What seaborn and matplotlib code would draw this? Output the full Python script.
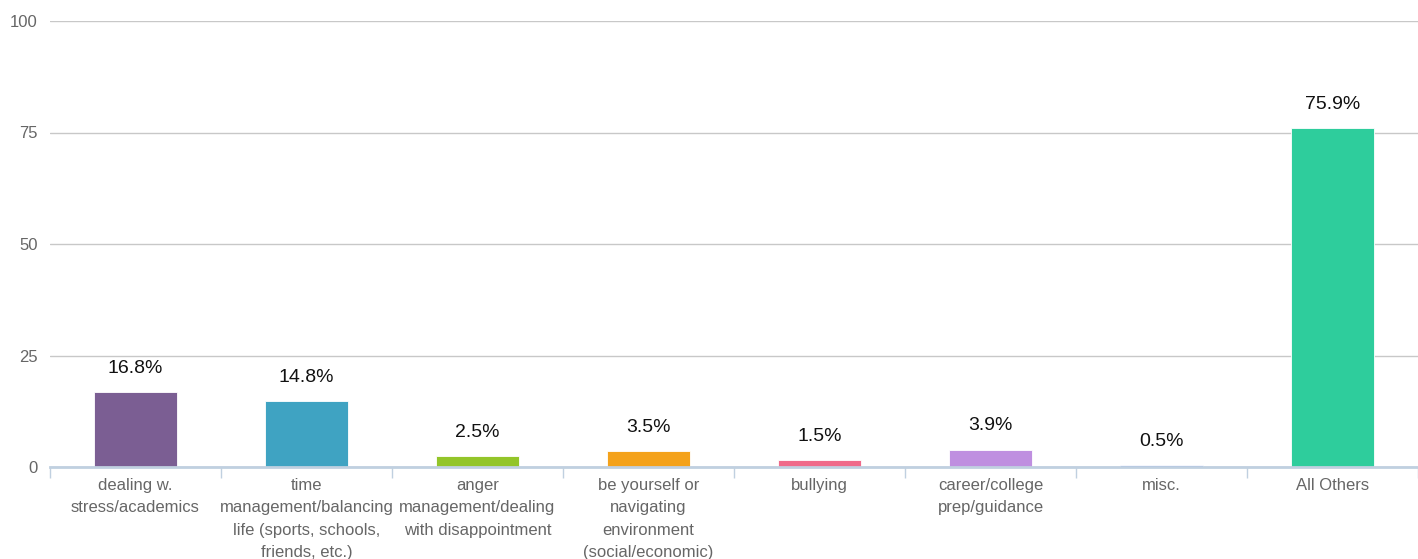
import numpy as np
import matplotlib
matplotlib.use("Agg")
import matplotlib.pyplot as plt
import seaborn as sns
import pandas as pd

categories = [
    "dealing w.\nstress/academics",
    "time\nmanagement/balancing\nlife (sports, schools,\nfriends, etc.)",
    "anger\nmanagement/dealing\nwith disappointment",
    "be yourself or\nnavigating\nenvironment\n(social/economic)",
    "bullying",
    "career/college\nprep/guidance",
    "misc.",
    "All Others",
]
values = [16.8, 14.8, 2.5, 3.5, 1.5, 3.9, 0.5, 75.9]
bar_colors = ["#7b5e93", "#3fa3c2", "#93c529", "#f4a21b",
              "#ef6a8a", "#bf8fe0", "#7a9ef0", "#2ecd9c"]
y_ticks = [0, 25, 50, 75, 100]

df = pd.DataFrame({"category": categories, "value": values})

sns.set_style("white")
plt.rcParams["font.family"] = ["Liberation Sans", "DejaVu Sans"]

fig = plt.figure(figsize=(14.18, 5.59), dpi=100)
ax = fig.add_axes([50 / 1418, 92 / 559, 1 - 50 / 1418, 446 / 559])

sns.barplot(data=df, x="category", y="value", hue="category",
            palette=bar_colors, width=0.48, saturation=1, legend=False, ax=ax,
            edgecolor="white", linewidth=0.6, zorder=3)

ax.set_ylim(0, 100)
ax.set_xlim(-0.5, len(categories) - 0.5)
ax.set_yticks(y_ticks)
ax.set_yticklabels([str(t) for t in y_ticks], color="#666666", fontsize=12)
ax.yaxis.grid(True, color="#c8c8c8", linewidth=1, zorder=0)
ax.tick_params(axis="y", length=0, pad=9)

# category labels centred, tick marks on the boundaries
ax.set_xticks(range(len(categories)))
ax.set_xticklabels(categories, color="#666666", fontsize=12, linespacing=1.6)
ax.tick_params(axis="x", which="major", bottom=False, length=0, pad=8)
ax.set_xticks(np.arange(-0.5, len(categories), 1), minor=True)
ax.tick_params(axis="x", which="minor", bottom=True, length=8,
               color="#c0d0e0", width=1)
ax.set_xlabel("")
ax.set_ylabel("")

for s in ["top", "right", "left"]:
    ax.spines[s].set_visible(False)
ax.spines["bottom"].set_color("#c0d0e0")
ax.spines["bottom"].set_linewidth(2)
ax.spines["bottom"].set_zorder(4)

for i, v in enumerate(values):
    ax.annotate(f"{v}%", (i, v), xytext=(0, 17), textcoords="offset points",
                ha="center", va="center", fontsize=14, color="#111111")

fig.savefig("out.png", dpi=100)
